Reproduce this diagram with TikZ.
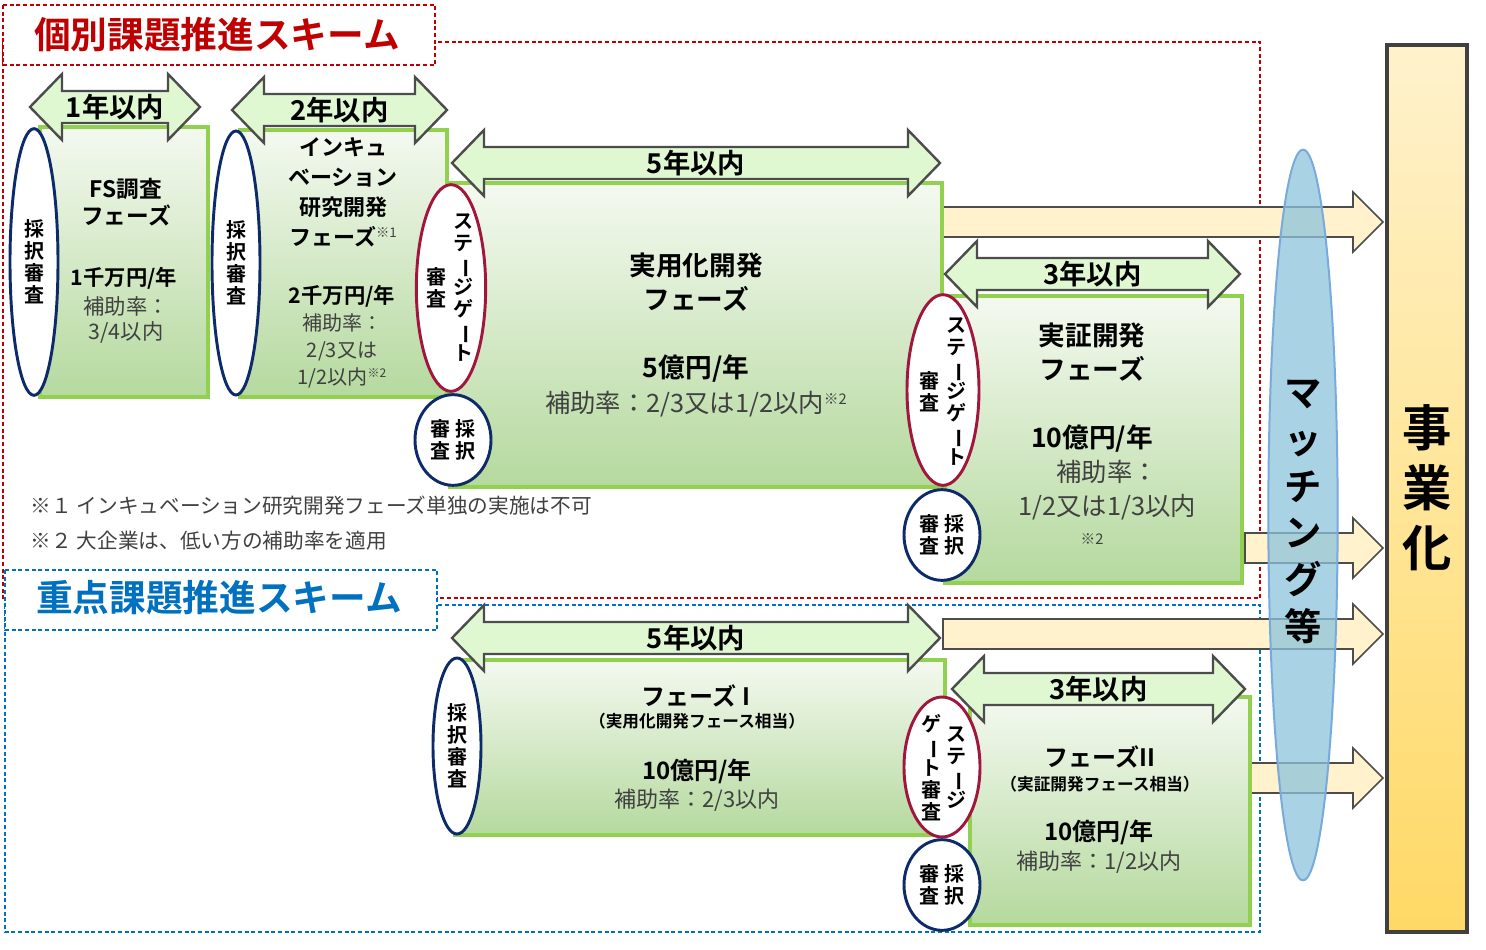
\documentclass[tikz,border=0pt]{standalone}
\usepackage{fontspec}
\setmainfont{Noto Sans CJK JP}[BoldFont={Noto Sans CJK JP Bold}]
\usetikzlibrary{shapes.geometric}
\definecolor{gbord}{HTML}{92D050}
\definecolor{gtop}{HTML}{F4F9F0}
\definecolor{gbot}{HTML}{B5D99E}
\definecolor{navy}{HTML}{0D2B6B}
\definecolor{wine}{HTML}{A0163C}
\definecolor{lg}{HTML}{DFF8D2}
\definecolor{ylw}{HTML}{FFF2CC}
\definecolor{gold}{HTML}{FFD966}
\definecolor{txt}{HTML}{404040}
\definecolor{rred}{HTML}{C00000}
\definecolor{bblue}{HTML}{0070C0}
\newcommand\fs[1]{\fontsize{#1pt}{1.2\dimexpr#1pt\relax}\selectfont}
\newcommand\vbar{\rotatebox[origin=c]{-90}{ー}}
\newcommand\dblarr[4]{% x1 x2 yc name
  \draw[darr] (#1,#3) -- (#1+32,#3-33) -- (#1+32,#3-16) -- (#2-32,#3-16) -- (#2-32,#3-33) -- (#2,#3) -- (#2-32,#3+33) -- (#2-32,#3+16) -- (#1+32,#3+16) -- (#1+32,#3+33) -- cycle;
  \node[dlab] (#4) at ({(#1+#2)/2},#3) {#4};}
\newcommand\yarr[3]{% x1 x2 yc
  \draw[yarrs] (#1,#3-15) -- (#2-30,#3-15) -- (#2-30,#3-30) -- (#2,#3) -- (#2-30,#3+30) -- (#2-30,#3+15) -- (#1,#3+15) -- cycle;}
\tikzset{
  x=0.75pt,y=-0.75pt,
  gbox/.style={draw=gbord,line width=2.6pt,top color=gtop,bottom color=gbot},
  darr/.style={draw=black!70,line width=1.8pt,fill=lg},
  dlab/.style={font=\fs{20.5}\bfseries},
  yarrs/.style={draw=black!70,line width=1.2pt,fill=ylw},
  ell/.style={ellipse,draw=navy,line width=2.2pt,fill=white,inner sep=0pt},
  sg/.style={ellipse,draw=wine,line width=2.2pt,fill=white,inner sep=0pt},
  vt/.style={font=\fontsize{15pt}{16.5pt}\selectfont\bfseries,align=center,inner sep=0pt},
  bt/.style={font=\fs{17}\bfseries,align=center,inner sep=0pt},
  rt/.style={font=\fs{16}\color{txt},align=center,inner sep=0pt},
}
\begin{document}
\begin{tikzpicture}
\useasboundingbox (0,0) rectangle (1486,950);
% scheme frames
\draw[rred,densely dashed,line width=0.8pt] (3,42) rectangle (1260,598);
\draw[rred,densely dashed,line width=0.8pt,fill=white] (3,5) rectangle (435,65);
\node[font=\fs{27.5}\bfseries,text=rred] (h1) at (217,35) {個別課題推進スキーム};
\draw[bblue,densely dashed,line width=0.8pt] (5,605) rectangle (1260,932);
\draw[bblue,densely dashed,line width=0.8pt,fill=white] (5,570) rectangle (437,630);
\node[font=\fs{27.5}\bfseries,text=bblue] (h2) at (219,598) {重点課題推進スキーム};
% yellow arrows
\yarr{943}{1383}{222}
\yarr{1245}{1383}{548}
\yarr{943}{1383}{634}
\yarr{1250}{1383}{778}
% phase boxes
\draw[gbox] (40,127) rectangle (208,397);
\draw[gbox] (240,130) rectangle (447,397);
\draw[gbox] (450,183) rectangle (942,487);
\draw[gbox] (945,296) rectangle (1242,583);
\draw[gbox] (455,660) rectangle (945,835);
\draw[gbox] (970,697) rectangle (1250,925);
% box texts
\node[bt] (t1) at (126,202) {FS調査\\フェーズ};
\node[bt,font=\fs{16}\bfseries] (t1b) at (124,278) {1千万円/年};
\node[rt] (t1c) at (126,320) {補助率：\\3/4以内};
\node[bt,font=\fontsize{16.5pt}{22.5pt}\selectfont\bfseries] (t2) at (343,192) {インキュ\\ベーション\\研究開発\\フェーズ{\fs{10}\mdseries\color{txt}\raisebox{1ex}{※1}}};
\node[bt,font=\fs{16}\bfseries] (t2b) at (342,296) {2千万円/年};
\node[rt,font=\fontsize{15pt}{20pt}\selectfont\color{txt}] (t2c) at (342,351) {補助率：\\2/3又は\\1/2以内{\fs{9}\raisebox{1ex}{※2}}};
\node[bt,font=\fontsize{20pt}{26pt}\selectfont\bfseries] (t3) at (696,282) {実用化開発\\フェーズ};
\node[bt,font=\fs{20}\bfseries] (t3b) at (696,369) {5億円/年};
\node[rt,font=\fs{19}\color{txt}] (t3c) at (696,404) {補助率：2/3又は1/2以内{\fs{11}\raisebox{1ex}{※2}}};
\node[bt,font=\fontsize{20pt}{26pt}\selectfont\bfseries] (t4) at (1092,352) {実証開発\\フェーズ};
\node[bt,font=\fs{20}\bfseries] (t4b) at (1092,439) {10億円/年};
\node[rt,font=\fontsize{19pt}{25pt}\selectfont\color{txt}] (t4c) at (1107,490) {補助率：\\1/2又は1/3以内};
\node[rt,font=\fs{11}\color{txt}] (t4d) at (1092,539) {※2};
\node[bt,font=\fs{18}\bfseries] (t5) at (696,696) {フェーズ I};
\node[bt,font=\fs{12.5}\bfseries] (t5a) at (697,721) {（実用化開発フェース相当）};
\node[bt,font=\fs{18}\bfseries] (t5b) at (697,771) {10億円/年};
\node[rt,font=\fs{16.5}\color{txt}] (t5c) at (697,800) {補助率：2/3以内};
\node[bt,font=\fs{18}\bfseries] (t6) at (1100,757) {フェーズII};
\node[bt,font=\fs{12.5}\bfseries] (t6a) at (1100,784) {（実証開発フェース相当）};
\node[bt,font=\fs{18}\bfseries] (t6b) at (1099,832) {10億円/年};
\node[rt,font=\fs{16.5}\color{txt}] (t6c) at (1099,862) {補助率：1/2以内};
% double arrows
\dblarr{30}{200}{107}{1年以内}
\dblarr{232}{447}{110}{2年以内}
\dblarr{452}{940}{163}{5年以内}
\dblarr{945}{1240}{274}{3年以内}
\dblarr{452}{940}{638}{5年以内 }
\dblarr{952}{1245}{689}{3年以内 }
% ellipses
\node[ell,minimum width=36pt,minimum height=200pt] (e1) at (34,262) {};
\node[vt] at (e1) {採\\択\\審\\査};
\node[ell,minimum width=36pt,minimum height=198pt] (e2) at (236,263) {};
\node[vt] at (e2) {採\\択\\審\\査};
\node[sg,minimum width=52pt,minimum height=155pt] (s1) at (451,288) {};
\node[vt] at (463,288) {ス\\テ\\\vbar\\ジ\\ゲ\\\vbar\\ト};
\node[vt] at (436,288) {審\\査};
\node[ell,minimum width=57pt,minimum height=68pt] (e3) at (453,440) {};
\node[vt] at (e3) {審 採\\査 択};
\node[sg,minimum width=54pt,minimum height=143pt] (s2) at (943,390) {};
\node[vt] at (956,392) {ス\\テ\\\vbar\\ジ\\ゲ\\\vbar\\ト};
\node[vt] at (929,392) {審\\査};
\node[ell,minimum width=57pt,minimum height=68pt] (e4) at (942,535) {};
\node[vt] at (e4) {審 採\\査 択};
\node[ell,minimum width=36pt,minimum height=132pt] (e5) at (457,746) {};
\node[vt] at (e5) {採\\択\\審\\査};
\node[sg,minimum width=57pt,minimum height=105pt] (s3) at (942,767) {};
\node[vt] at (956,768) {ス\\テ\\\vbar\\ジ};
\node[vt] at (931,768) {ゲ\\\vbar\\ト\\審\\査};
\node[ell,minimum width=57pt,minimum height=68pt] (e6) at (942,885) {};
\node[vt] at (e6) {審 採\\査 択};
% notes
\node[anchor=west,font=\fs{15.5},text=txt] (n1) at (26,506) {※１ インキュベーション研究開発フェーズ単独の実施は不可};
\node[anchor=west,font=\fs{15.5},text=txt] (n2) at (26,541) {※２ 大企業は、低い方の補助率を適用};
% matching ellipse
\node[ellipse,draw={rgb,255:red,120;green,170;blue,220},line width=1.5pt,fill={rgb,255:red,140;green,196;blue,220},fill opacity=0.75,minimum width=52pt,minimum height=548pt] (m) at (1303,515) {};
\node[font=\fontsize{28pt}{35pt}\selectfont\bfseries,align=center] (mt) at (1303,512) {マ\\ッ\\チ\\ン\\グ\\等};
% business
\draw[draw=black!75,line width=2.5pt,top color=ylw,bottom color=gold] (1387,45) rectangle (1467,932);
\node[font=\fontsize{37pt}{45pt}\selectfont\bfseries,align=center] (biz) at (1427,488) {事\\業\\化};
\end{tikzpicture}
\end{document}
